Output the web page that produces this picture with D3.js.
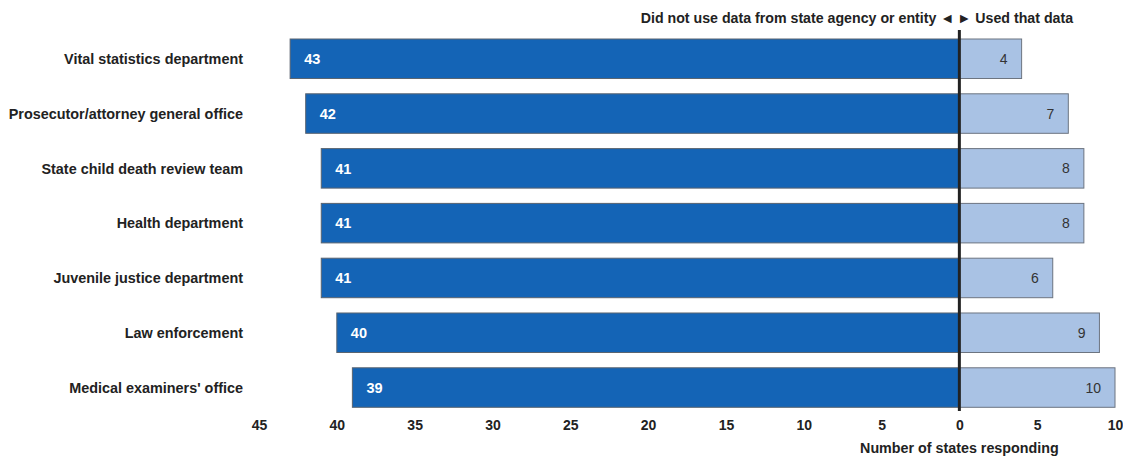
<!DOCTYPE html>
<html><head><meta charset="utf-8">
<script src="https://cdn.jsdelivr.net/npm/d3@7"></script>
<style>body{margin:0;background:#fff}svg{display:block}text{font-family:"Liberation Sans",Arial,sans-serif;font-weight:bold}</style>
</head><body><svg id="c" width="1123" height="457"></svg>
<script>
const categories = ["Vital statistics department","Prosecutor/attorney general office","State child death review team","Health department","Juvenile justice department","Law enforcement","Medical examiners' office"];
const notUsed = [43,42,41,41,41,40,39];
const used = [4,7,8,8,6,9,10];
const tickValues = [-45,-40,-35,-30,-25,-20,-15,-10,-5,0,5,10];

const svg = d3.select("#c");
const x = d3.scaleLinear().domain([-45,10]).range([259,1115]);
const y = d3.scaleBand().domain(categories).range([39,407.3]).paddingInner(0.279).paddingOuter(0);

const rows = categories.map((c,i)=>({c, n:notUsed[i], u:used[i]}));

svg.selectAll("rect.n").data(rows).join("rect").attr("class","n")
  .attr("x",d=>x(-d.n)).attr("y",d=>y(d.c)).attr("width",d=>x(0)-x(-d.n)).attr("height",y.bandwidth())
  .attr("fill","#1464b6").attr("stroke","#5a6470").attr("stroke-width",1);
svg.selectAll("rect.u").data(rows).join("rect").attr("class","u")
  .attr("x",x(0)).attr("y",d=>y(d.c)).attr("width",d=>x(d.u)-x(0)).attr("height",y.bandwidth())
  .attr("fill","#a9c2e4").attr("stroke","#6c7480").attr("stroke-width",1);

svg.selectAll("text.nl").data(rows).join("text").attr("class","nl")
  .attr("x",d=>x(-d.n)+14).attr("y",d=>y(d.c)+y.bandwidth()/2).attr("dy","0.36em")
  .attr("fill","#fff").attr("font-size",14.5).text(d=>d.n);
svg.selectAll("text.ul").data(rows).join("text").attr("class","ul")
  .attr("x",d=>x(d.u)-14).attr("y",d=>y(d.c)+y.bandwidth()/2).attr("dy","0.36em")
  .attr("text-anchor","end").attr("fill","#333").attr("font-size",14).style("font-weight","normal").text(d=>d.u);

svg.selectAll("text.cat").data(rows).join("text").attr("class","cat")
  .attr("x",243).attr("y",d=>y(d.c)+y.bandwidth()/2).attr("dy","0.36em")
  .attr("text-anchor","end").attr("fill","#222").attr("font-size",14.4).text(d=>d.c);

svg.append("line").attr("x1",x(0)).attr("x2",x(0)).attr("y1",30).attr("y2",411)
  .attr("stroke","#222").attr("stroke-width",3);

const axis = d3.axisBottom(x).tickValues(tickValues).tickFormat(d=>Math.abs(d)).tickSize(0).tickPadding(0);
const ag = svg.append("g").attr("transform","translate(0,420)").call(axis);
ag.select(".domain").remove();
ag.selectAll("text").attr("font-size",14).attr("fill","#222").attr("dy","0.71em")
  .style("font-family","'Liberation Sans',Arial,sans-serif").style("font-weight","bold");

svg.append("text").attr("x",x(0)).attr("y",453).attr("text-anchor","middle").attr("fill","#222")
  .attr("font-size",14.3).text("Number of states responding");

svg.append("text").attr("x",x(0)-5).attr("y",23).attr("text-anchor","end").attr("fill","#222")
  .attr("font-size",14.2).text("Did not use data from state agency or entity \u25C4");
svg.append("text").attr("x",x(0)-2).attr("y",23).attr("text-anchor","start").attr("fill","#222")
  .attr("font-size",14.2).text("\u25BA Used that data");
</script></body></html>
